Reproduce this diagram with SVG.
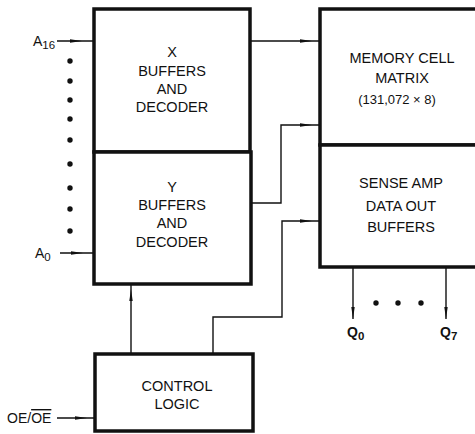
<svg xmlns="http://www.w3.org/2000/svg" width="475" height="434" viewBox="0 0 475 434">
<style>
  .box { fill: #fff; stroke: #111; stroke-width: 3.5; }
  .wire { fill: none; stroke: #111; stroke-width: 1.4; marker-end: url(#ah); }
  .t { font-family: "Liberation Sans", Arial, sans-serif; font-size: 14.5px; fill: #111; text-anchor: middle; }
  .lbl { font-family: "Liberation Sans", Arial, sans-serif; font-size: 14px; fill: #111; }
  .sub { font-size: 11.5px; }
  .dot { fill: #111; }
</style>
<defs>
  <marker id="ah" viewBox="0 0 12 4" refX="12" refY="2" markerWidth="12" markerHeight="4" orient="auto" markerUnits="userSpaceOnUse">
    <path d="M0,0.3 L12,2 L0,3.7 z" fill="#111"/>
  </marker>
</defs>
<rect width="475" height="434" fill="#fff"/>

<g id="x-buffers">
  <rect class="box" x="94" y="9" width="156" height="143"/>
  <text class="t" x="172" y="57">X</text>
  <text class="t" x="172" y="76">BUFFERS</text>
  <text class="t" x="172" y="94">AND</text>
  <text class="t" x="172" y="112">DECODER</text>
</g>
<g id="y-buffers">
  <rect class="box" x="94" y="152" width="157" height="132"/>
  <text class="t" x="172" y="192">Y</text>
  <text class="t" x="172" y="210">BUFFERS</text>
  <text class="t" x="172" y="228">AND</text>
  <text class="t" x="172" y="247">DECODER</text>
</g>
<g id="memory-cell-matrix">
  <rect class="box" x="320" y="9" width="170" height="136"/>
  <text class="t" x="402" y="63">MEMORY CELL</text>
  <text class="t" x="402" y="83">MATRIX</text>
  <text class="t" x="397" y="104" style="font-size:13px">(131,072 × 8)</text>
</g>
<g id="sense-amp">
  <rect class="box" x="320" y="145" width="170" height="122"/>
  <text class="t" x="401" y="188">SENSE AMP</text>
  <text class="t" x="401" y="211">DATA OUT</text>
  <text class="t" x="401" y="232">BUFFERS</text>
</g>
<g id="control-logic">
  <rect class="box" x="95" y="354" width="158" height="77"/>
  <text class="t" x="177" y="391">CONTROL</text>
  <text class="t" x="177" y="409">LOGIC</text>
</g>

<g id="labels">
  <text class="lbl" x="33" y="46">A<tspan class="sub" dy="3">16</tspan></text>
  <text class="lbl" x="35" y="258">A<tspan class="sub" dy="3">0</tspan></text>
  <text class="lbl" x="7" y="423">OE/<tspan text-decoration="overline">OE</tspan></text>
  <text class="lbl" x="347" y="337" font-weight="bold">Q<tspan class="sub" dy="3">0</tspan></text>
  <text class="lbl" x="440" y="337" font-weight="bold">Q<tspan class="sub" dy="3">7</tspan></text>
</g>

<g id="dots">
  <circle class="dot" cx="70" cy="61" r="2.7"/>
  <circle class="dot" cx="70" cy="81" r="2.7"/>
  <circle class="dot" cx="70" cy="100" r="2.7"/>
  <circle class="dot" cx="70" cy="119" r="2.7"/>
  <circle class="dot" cx="70" cy="140" r="2.7"/>
  <circle class="dot" cx="70" cy="164" r="2.7"/>
  <circle class="dot" cx="70" cy="188" r="2.7"/>
  <circle class="dot" cx="70" cy="209" r="2.7"/>
  <circle class="dot" cx="70" cy="231" r="2.7"/>
  <circle class="dot" cx="376" cy="303" r="2.7"/>
  <circle class="dot" cx="398" cy="303" r="2.7"/>
  <circle class="dot" cx="421" cy="303" r="2.7"/>
</g>

<g id="connectors">
  <path class="wire" d="M82,41 L93,41 M57,41 L82,41"/>
  <path class="wire" d="M83,253 L93,253 M60,253 L83,253"/>
  <path class="wire" d="M87,418 L94,418 M57,418 L87,418"/>
  <path class="wire" d="M312,41 L319,41 M251,41 L312,41"/>
  <path class="wire" d="M312,125 L319,125 M251,203 L281,203 L281,125 L312,125"/>
  <path class="wire" d="M312,221 L319,221 M213,353 L213,317 L282,317 L282,221 L312,221"/>
  <path class="wire" d="M131,289 L131,285 M131,353 L131,289"/>
  <path class="wire" d="M353,268 L353,319"/>
  <path class="wire" d="M446,268 L446,319"/>
</g>
</svg>
